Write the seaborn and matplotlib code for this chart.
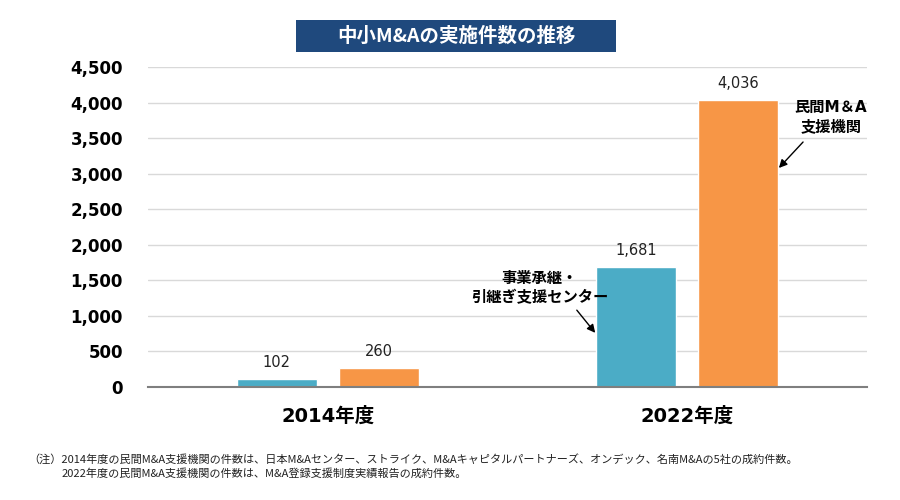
import pandas as pd
import matplotlib.pyplot as plt
import seaborn as sns
from matplotlib.patches import Rectangle

# chart values
years = ["2014年度", "2022年度"]
groups = ["事業承継・引継ぎ支援センター", "民間M&A支援機関"]
center_counts = [102, 1681]
private_counts = [260, 4036]
y_ticks = [0, 500, 1000, 1500, 2000, 2500, 3000, 3500, 4000, 4500]
y_tick_labels = ["0", "500", "1,000", "1,500", "2,000", "2,500", "3,000", "3,500", "4,000", "4,500"]

title = "中小M&Aの実施件数の推移"
label_center = "事業承継・\n引継ぎ支援センター"
label_private = "民間M＆A\n支援機関"
note_1 = "（注）2014年度の民間M&A支援機関の件数は、日本M&Aセンター、ストライク、M&Aキャピタルパートナーズ、オンデック、名南M&Aの5社の成約件数。"
note_2 = "2022年度の民間M&A支援機関の件数は、M&A登録支援制度実績報告の成約件数。"

colors = ["#4bacc6", "#f79646"]

df = pd.DataFrame({
    "year": years * 2,
    "group": [groups[0]] * 2 + [groups[1]] * 2,
    "count": center_counts + private_counts,
})

sns.set_theme(style="whitegrid")
plt.rcParams["font.family"] = ["DejaVu Sans", "Noto Sans CJK JP"]

fig = plt.figure(figsize=(9, 5), dpi=100)
ax = fig.add_axes([0.1644, 0.2266, 0.7989, 0.6388])

sns.barplot(data=df, x="year", y="count", hue="group", palette=colors,
            width=0.567, gap=0.216, legend=False, ax=ax, saturation=1)

for cont in ax.containers:
    ax.bar_label(cont, labels=[f"{int(v):,}" for v in cont.datavalues],
                 padding=7, fontsize=10.5, color="#222222")

ax.set_ylim(0, 4500)
ax.set_xlim(-0.5, 1.5)
ax.set_yticks(y_ticks)
ax.set_yticklabels(y_tick_labels, fontsize=12, fontweight="bold", color="black")
ax.tick_params(axis="y", length=0, pad=18)
ax.tick_params(axis="x", length=0, pad=14)
for lab in ax.get_xticklabels():
    lab.set_fontsize(14)
    lab.set_fontweight("bold")
    lab.set_color("black")
ax.set_xlabel("")
ax.set_ylabel("")
ax.yaxis.grid(True, color="#d9d9d9", linewidth=1.0)
ax.xaxis.grid(False)
for s in ["left", "right", "top"]:
    ax.spines[s].set_visible(False)
ax.spines["bottom"].set_color("#7f7f7f")
ax.spines["bottom"].set_linewidth(1.5)

# annotations
ax.text(0.59, 1390, label_center, ha="center", va="center", fontsize=11,
        fontweight="bold", color="black", linespacing=1.3)
ax.annotate("", xy=(0.749, 728), xytext=(0.688, 1109),
            arrowprops=dict(arrowstyle="-|>", color="black", lw=1, mutation_scale=12))
ax.text(1.40, 3800, label_private, ha="center", va="center", fontsize=11,
        fontweight="bold", color="black", linespacing=1.3)
ax.annotate("", xy=(1.2497, 3053), xytext=(1.3275, 3476),
            arrowprops=dict(arrowstyle="-|>", color="black", lw=1, mutation_scale=12))

# title box
fig.patches.append(Rectangle((296 / 900, 1 - 52 / 500), 320 / 900, 32 / 500,
                             transform=fig.transFigure, facecolor="#1f497d",
                             edgecolor="none"))
fig.text(456 / 900, 1 - 36 / 500, title, ha="center", va="center", fontsize=14,
         fontweight="bold", color="white", family=["Noto Sans CJK JP"])

# notes
fig.text(28 / 900, 1 - 459 / 500, note_1, ha="left", va="center", fontsize=8.0,
         color="#222222", family=["Noto Sans CJK JP"])
fig.text(62 / 900, 1 - 474 / 500, note_2, ha="left", va="center", fontsize=8.0,
         color="#222222", family=["Noto Sans CJK JP"])

fig.savefig("out.png", dpi=100)
